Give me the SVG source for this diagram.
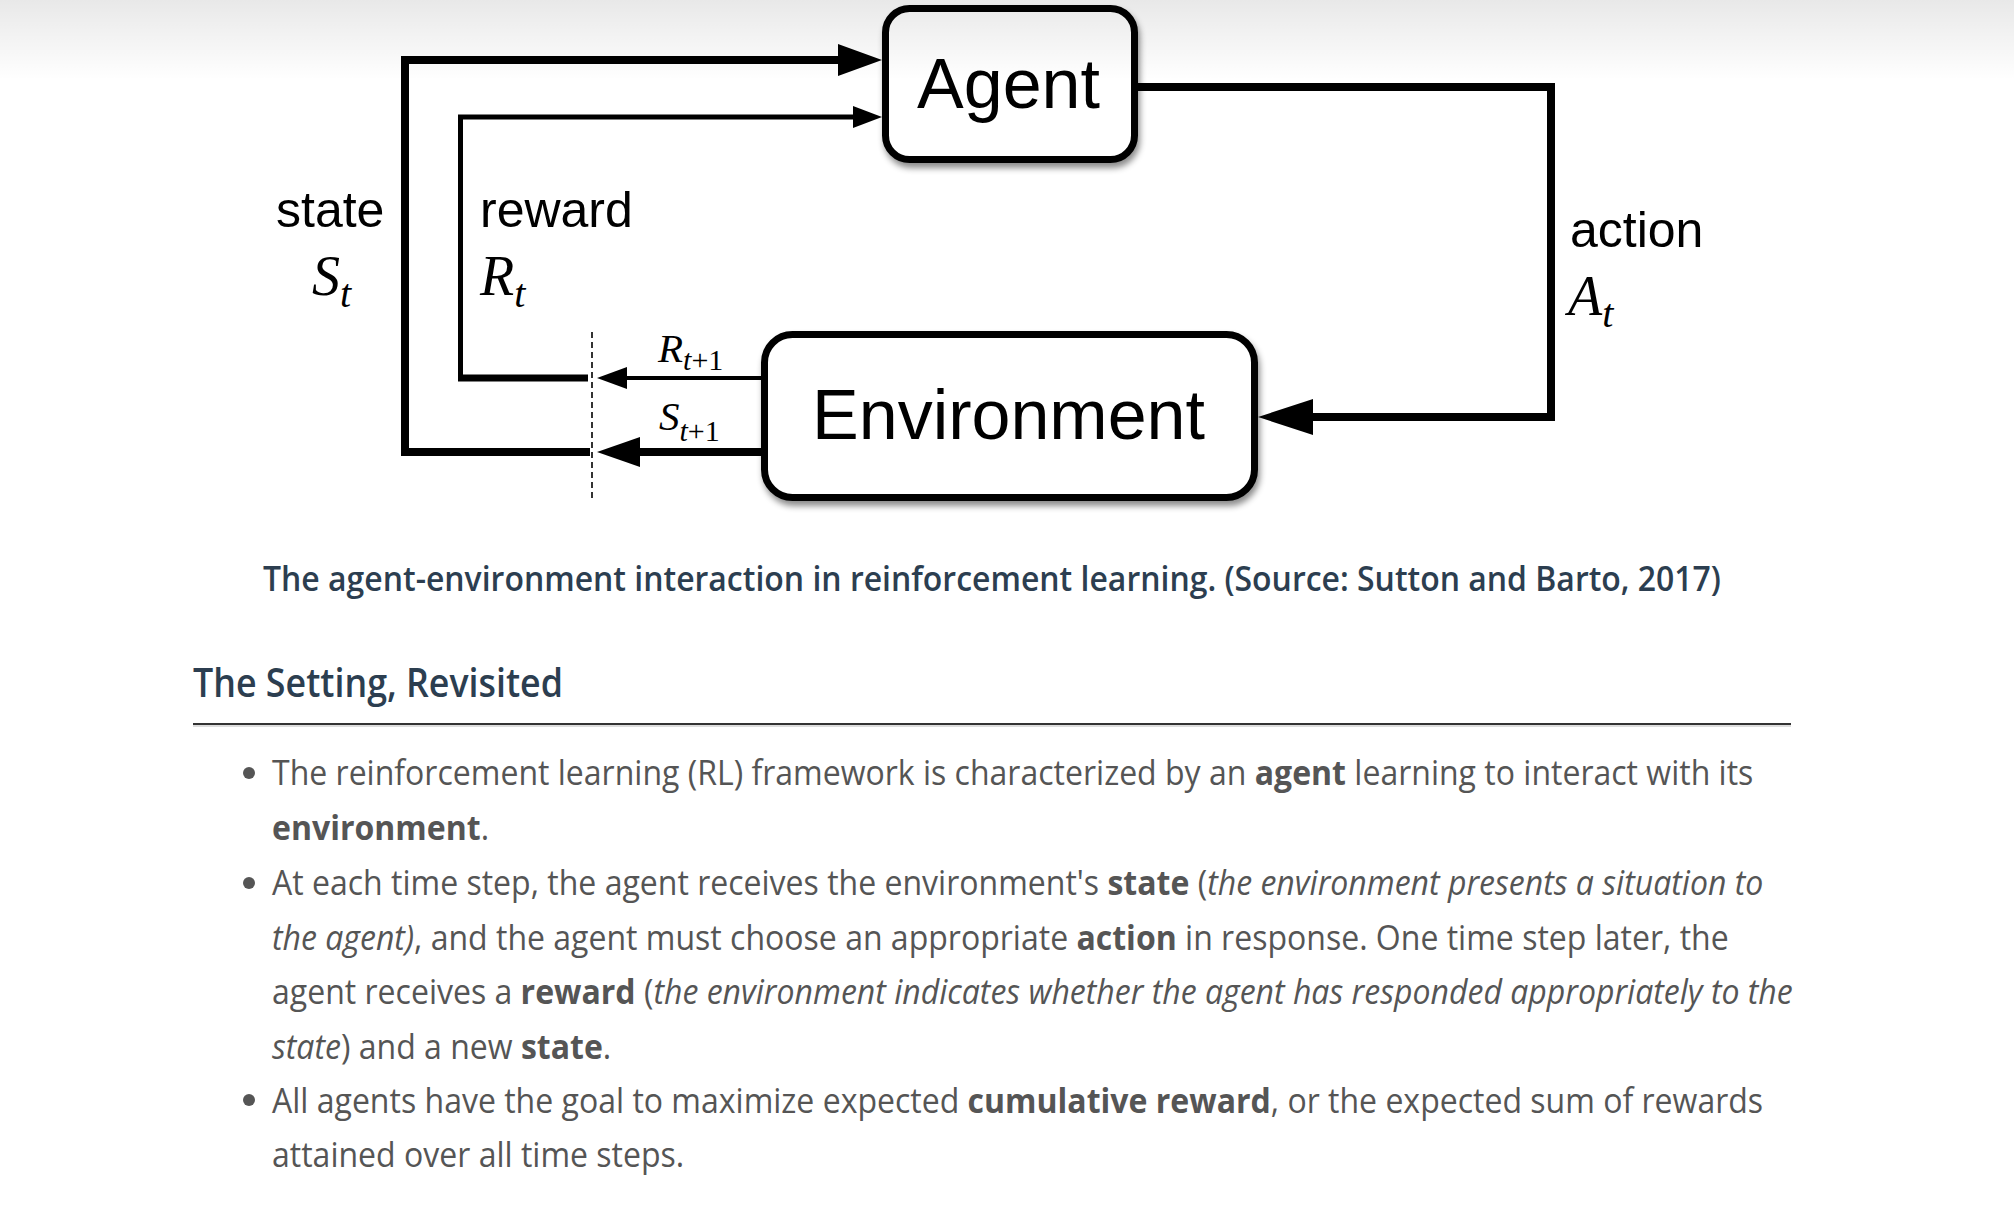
<svg xmlns="http://www.w3.org/2000/svg" width="2014" height="1224" viewBox="0 0 2014 1224">
<defs>
<style>
.box{fill:#fff;stroke:#000;stroke-width:7}
.lbl{font-family:"Liberation Sans",Arial,sans-serif;font-size:50px;fill:#000}
.big{font-family:"Liberation Sans",Arial,sans-serif;font-size:70px;fill:#000;text-anchor:middle}
.math{font-family:"Liberation Serif","Times New Roman",serif;font-style:italic;fill:#000}
.up{font-style:normal}
.ln{fill:none;stroke:#000;stroke-linejoin:miter;stroke-linecap:butt}
.head{fill:#000}
.cap{font-family:"Open Sans",sans-serif;font-weight:600;fill:#2c3e50}
.body{font-family:"Open Sans",sans-serif;font-size:34px;fill:#555}
.b{font-weight:700}
.i{font-style:italic}
</style>
<filter id="sh" x="-10%" y="-10%" width="130%" height="140%">
<feDropShadow dx="2" dy="5" stdDeviation="3" flood-color="#000" flood-opacity="0.45"/>
</filter>
<linearGradient id="top" x1="0" y1="0" x2="0" y2="1">
<stop offset="0" stop-color="#000" stop-opacity="0.09"/>
<stop offset="1" stop-color="#000" stop-opacity="0"/>
</linearGradient>
</defs>
<rect width="2014" height="1224" fill="#fff"/>

<g id="connectors">
<path class="ln" d="M590,452 H405 V60 H840" stroke-width="8"/>
<polygon class="head" points="838,44 882,60 838,76"/>
<path class="ln" d="M460.5,378 V117 H855" stroke-width="5"/>
<path class="ln" d="M458,378 H588" stroke-width="7"/>
<polygon class="head" points="853,106 882,117 853,128"/>
<path class="ln" d="M761,378 H625" stroke-width="4"/>
<polygon class="head" points="627,367 597,378 627,389"/>
<path class="ln" d="M761,452 H638" stroke-width="8"/>
<polygon class="head" points="640,437 597,452 640,467"/>
<path class="ln" d="M1138,87 H1551 V417 H1311" stroke-width="8"/>
<polygon class="head" points="1313,399 1258,417 1313,435"/>
<line x1="592" y1="332" x2="592" y2="502" stroke="#333" stroke-width="2" stroke-dasharray="6,4"/>
</g>

<g id="agent">
<rect class="box" x="885.5" y="8.5" width="249" height="151" rx="24" filter="url(#sh)"/>
<text class="big" x="1008.5" y="108">Agent</text>
</g>

<g id="environment">
<rect class="box" x="764.5" y="334.5" width="490" height="163" rx="28" filter="url(#sh)"/>
<text class="big" x="1008.5" y="439">Environment</text>
</g>

<g id="labels">
<text class="lbl" x="276" y="227">state</text>
<text class="math" x="312" y="295" font-size="56">S<tspan font-size="40" dy="12">t</tspan></text>
<text class="lbl" x="480" y="227">reward</text>
<text class="math" x="480" y="295" font-size="56">R<tspan font-size="40" dy="12">t</tspan></text>
<text class="lbl" x="1570" y="247">action</text>
<text class="math" x="1568" y="315" font-size="56">A<tspan font-size="40" dy="12">t</tspan></text>
<text class="math" x="658" y="362" font-size="41">R<tspan font-size="30" dy="8">t<tspan class="up">+1</tspan></tspan></text>
<text class="math" x="659" y="430" font-size="41">S<tspan font-size="30" dy="11">t<tspan class="up">+1</tspan></tspan></text>
</g>

<g id="caption">
<text class="cap" x="263" y="591" font-size="34" textLength="1458" lengthAdjust="spacingAndGlyphs">The agent-environment interaction in reinforcement learning. (Source: Sutton and Barto, 2017)</text>
</g>

<g id="heading">
<text class="cap" x="193" y="697" font-size="40" textLength="370" lengthAdjust="spacingAndGlyphs">The Setting, Revisited</text>
<rect x="193" y="723" width="1598" height="2" fill="#333"/>
<rect x="193" y="725" width="1598" height="2" fill="#ddd"/>
</g>

<g id="bullets">
<circle cx="249" cy="773" r="6" fill="#555"/>
<circle cx="249" cy="883" r="6" fill="#555"/>
<circle cx="249" cy="1100" r="6" fill="#555"/>
<g transform="translate(272,0) scale(0.942,1)">
<text class="body" x="0" y="785">The reinforcement learning (RL) framework is characterized by an <tspan class="b">agent</tspan> learning to interact with its</text>
<text class="body" x="0" y="840"><tspan class="b">environment</tspan>.</text>
<text class="body" x="0" y="895">At each time step, the agent receives the environment's <tspan class="b">state</tspan> (<tspan class="i">the environment presents a situation to</tspan></text>
<text class="body" x="0" y="950"><tspan class="i">the agent)</tspan>, and the agent must choose an appropriate <tspan class="b">action</tspan> in response. One time step later, the</text>
<text class="body" x="0" y="1004">agent receives a <tspan class="b">reward</tspan> (<tspan class="i">the environment indicates whether the agent has responded appropriately to the</tspan></text>
<text class="body" x="0" y="1059"><tspan class="i">state</tspan>) and a new <tspan class="b">state</tspan>.</text>
<text class="body" x="0" y="1113">All agents have the goal to maximize expected <tspan class="b">cumulative reward</tspan>, or the expected sum of rewards</text>
<text class="body" x="0" y="1167">attained over all time steps.</text>
</g>
</g>

<rect x="0" y="0" width="2014" height="80" fill="url(#top)"/>
</svg>
